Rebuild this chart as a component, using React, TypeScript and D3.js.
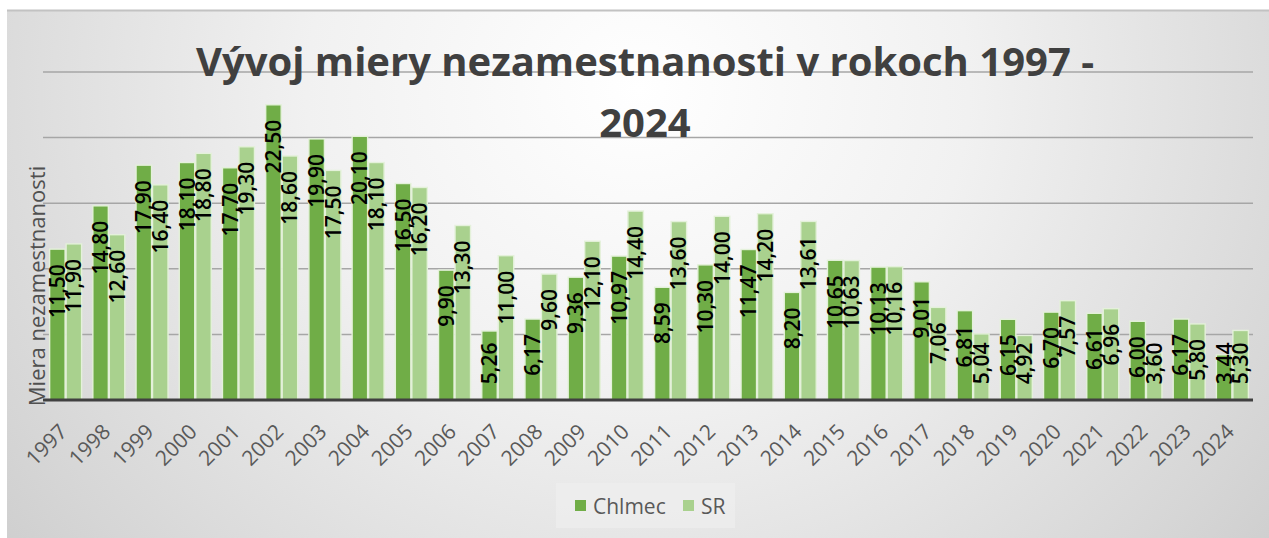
import React from "react";
import * as d3 from "d3";

const years = ["1997","1998","1999","2000","2001","2002","2003","2004","2005","2006","2007","2008","2009","2010","2011","2012","2013","2014","2015","2016","2017","2018","2019","2020","2021","2022","2023","2024"];
const chlmec = [11.5,14.8,17.9,18.1,17.7,22.5,19.9,20.1,16.5,9.9,5.26,6.17,9.36,10.97,8.59,10.3,11.47,8.2,10.65,10.13,9.01,6.81,6.15,6.7,6.61,6.0,6.17,3.44];
const sr = [11.9,12.6,16.4,18.8,19.3,18.6,17.5,18.1,16.2,13.3,11.0,9.6,12.1,14.4,13.6,14.0,14.2,13.61,10.63,10.16,7.06,5.04,4.92,7.57,6.96,3.6,5.8,5.3];
const seriesNames = ["Chlmec", "SR"];
const gridValues = [5, 10, 15, 20, 25];
const titleLines = ["Vývoj miery nezamestnanosti v rokoch 1997 -", "2024"];
const yAxisTitle = "Miera nezamestnanosti";

const W = 1269, H = 538;
const colors = { Chlmec: "#70AD47", SR: "#A9D18E" };
const FONT = "'Open Sans', 'Liberation Sans', sans-serif";

export default function App() {
  const x = d3.scaleBand<string>().domain(years).range([44, 1254]).paddingInner(0.26).paddingOuter(0.13);
  const xs = d3.scaleBand<string>().domain(seriesNames).range([0, x.bandwidth()]).paddingInner(0.06);
  const y = d3.scaleLinear().domain([0, 25]).range([400, 72]);
  const fmt = (v: number) => d3.format(".2f")(v).replace(".", ",");
  const labelFont = 21;
  const textLen = (s: string) => {
    let w = 0;
    for (const c of s) w += c === "," ? 0.26 : 0.572;
    return w * labelFont;
  };

  const data = years.map((yr, i) => ({ yr, vals: [{ k: "Chlmec", v: chlmec[i] }, { k: "SR", v: sr[i] }] }));

  return (
    <svg width={W} height={H} style={{ position: "absolute", left: 0, top: 0 }} xmlns="http://www.w3.org/2000/svg">
      <defs>
        <radialGradient id="bg" cx="0.5" cy="0.15" r="0.75" gradientTransform="translate(0.5 0.15) scale(1 2.2) translate(-0.5 -0.15)">
          <stop offset="0" stopColor="#ffffff" />
          <stop offset="0.35" stopColor="#f1f1f1" />
          <stop offset="0.75" stopColor="#d6d6d6" />
          <stop offset="1" stopColor="#c4c4c4" />
        </radialGradient>
      </defs>
      <rect x={0} y={0} width={W} height={H} fill="#ffffff" />
      <rect x={7} y={10} width={W - 7} height={H - 10} fill="url(#bg)" />
      <line x1={7} x2={W} y1={10.5} y2={10.5} stroke="#c2c2c2" strokeWidth={2} />

      {/* gridlines */}
      {gridValues.map((g) => (
        <line key={g} x1={43} x2={1253} y1={y(g)} y2={y(g)} stroke="#a6a6a6" strokeWidth={1.5} />
      ))}

      {/* title */}
      {titleLines.map((t, i) => (
        <text key={i} x={645} y={76 + i * 61} textAnchor="middle" fontFamily={FONT} fontWeight={700} fontSize={40} fill="#404040">{t}</text>
      ))}

      {/* bars */}
      {data.map((d) => (
        <g key={d.yr} transform={`translate(${x(d.yr)},0)`}>
          {d.vals.map((s) => (
            <rect key={s.k} x={xs(s.k)} y={y(s.v)} width={xs.bandwidth()} height={y(0) - y(s.v)}
              fill={(colors as any)[s.k]} stroke="#e4f1da" strokeWidth={1.4} />
          ))}
        </g>
      ))}

      {/* baseline */}
      <line x1={43} x2={1253} y1={y(0)} y2={y(0)} stroke="#404040" strokeWidth={3} />

      {/* data labels */}
      {data.map((d) =>
        d.vals.map((s) => {
          const label = fmt(s.v);
          const cx = (x(d.yr) as number) + (xs(s.k) as number) + xs.bandwidth() / 2;
          const top = Math.min(y(s.v) + 15, 384 - textLen(label));
          return (
            <text key={d.yr + s.k} x={cx} y={top} dy="0.36em" textAnchor="end"
              transform={`rotate(-90, ${cx}, ${top})`} fontFamily={FONT} fontWeight={600} fontSize={labelFont} fill="#000000">{label}</text>
          );
        })
      )}

      {/* x axis labels */}
      {years.map((yr) => {
        const ax = (x(yr) as number) + x.bandwidth() / 2 + 3;
        const ay = 433;
        return (
          <text key={yr} x={ax} y={ay} textAnchor="end" transform={`rotate(-45, ${ax}, ${ay})`}
            fontFamily={FONT} fontSize={21} fill="#595959">{yr}</text>
        );
      })}

      {/* y axis title */}
      <text x={45} y={286} textAnchor="middle" transform="rotate(-90, 45, 286)" fontFamily={FONT} fontWeight={500} fontSize={22} fill="#505050">{yAxisTitle}</text>

      {/* legend */}
      <rect x={556} y={483} width={179} height={45} fill="#eeeeee" opacity={0.8} />
      {seriesNames.map((n, i) => {
        const lx = i === 0 ? 575 : 683;
        return (
          <g key={n}>
            <rect x={lx} y={500} width={11} height={11} fill={(colors as any)[n]} />
            <text x={lx + 18} y={514} fontFamily={FONT} fontSize={21} fill="#595959">{n}</text>
          </g>
        );
      })}
    </svg>
  );
}
